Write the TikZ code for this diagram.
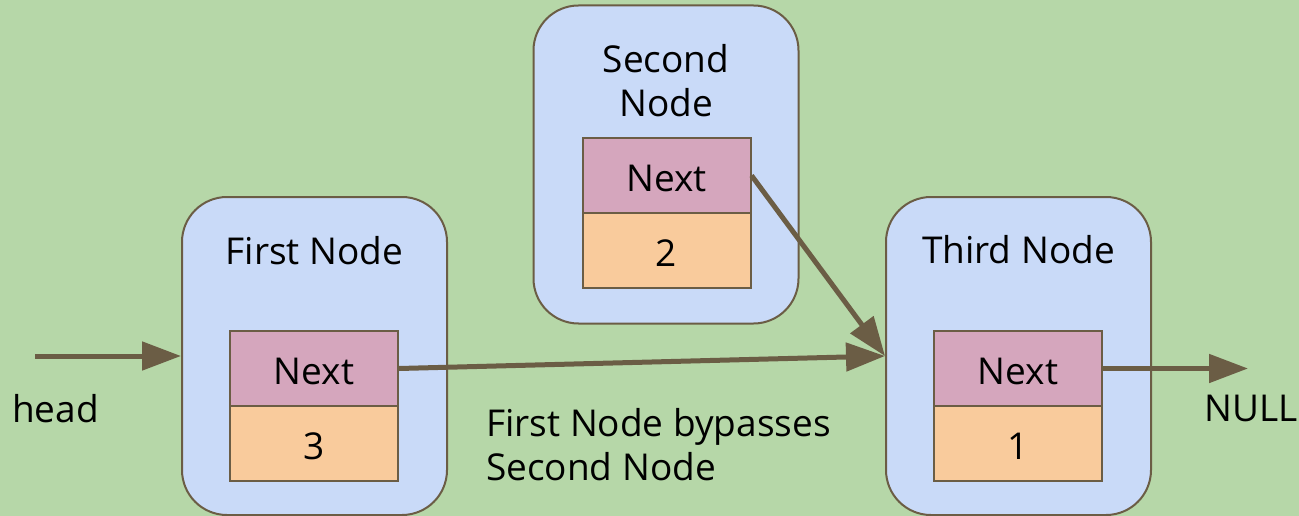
\documentclass[tikz,border=0pt]{standalone}
\usepackage{fontspec}
\setmainfont{Open Sans}
\usetikzlibrary{arrows.meta}
\definecolor{bg}{HTML}{B6D7A8}
\definecolor{boxblue}{HTML}{C9DAF8}
\definecolor{nextpink}{HTML}{D5A6BD}
\definecolor{valorange}{HTML}{F9CB9C}
\definecolor{edge}{HTML}{6B5D45}
\begin{document}
\begin{tikzpicture}[x=1pt,y=-1pt,
  font=\fontsize{37}{44}\selectfont,
  outer/.style={draw=edge, fill=boxblue, line width=2pt, rounded corners=45pt,
    minimum width=265pt, minimum height=318pt, inner sep=0pt},
  cell/.style={draw=edge, line width=2pt, minimum width=168pt, minimum height=75pt,
    inner sep=0pt, text height=32pt, text depth=0pt},
  nextcell/.style={cell, fill=nextpink},
  valcell/.style={cell, fill=valorange},
  lbl/.style={inner sep=0pt, anchor=base},
  arr/.style={draw=edge, line width=5pt, -{Triangle[length=39pt,width=28pt]}}]
\fill[bg] (0,0) rectangle (1299,516);
\useasboundingbox (0,0) rectangle (1299,516);
% outer boxes
\node[outer] (first) at (314.5,356) {};
\node[outer] (second) at (666,164.5) {};
\node[outer] (third) at (1018.5,356) {};
% titles (base = baseline of last line)
\node[lbl] (t1) at (314.5,264) {First Node};
\node[lbl, align=center] (t2) at (666,117) {Second\\Node};
\node[lbl] (t3) at (1018.5,263) {Third Node};
% cells
\node[nextcell] (n1) at (314,368.5) {Next};
\node[valcell] (v1) at (314,443.5) {3};
\node[nextcell] (n2) at (666.5,175.5) {Next};
\node[valcell] (v2) at (666.5,250.5) {2};
\node[nextcell] (n3) at (1018,368.5) {Next};
\node[valcell] (v3) at (1018,443.5) {1};
% labels
\node[lbl, anchor=base west] (head) at (12,422) {head};
\node[lbl, anchor=base west] (null) at (1204,421) {NULL};
\node[lbl, anchor=base west, align=left] (note) at (486,480) {First Node bypasses\\Second Node};
% connectors
\coordinate (hs) at (35,356);
\coordinate (ne) at (1248,368.5);
\draw[arr] (hs) -- (first.west);
\draw[arr] (n1.east) -- (third.west);
\draw[arr] (n2.east) -- (third.west);
\draw[arr] (n3.east) -- (ne);
\end{tikzpicture}
\end{document}
